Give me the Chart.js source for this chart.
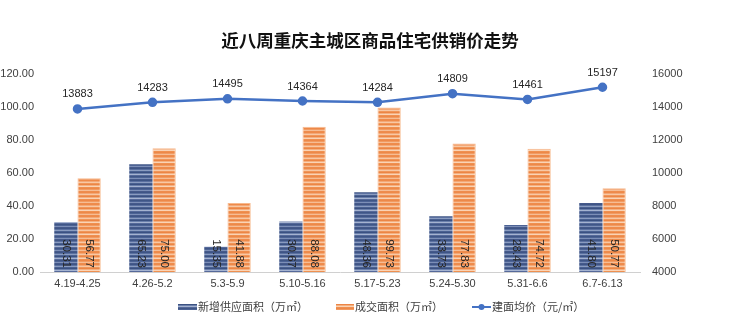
<!DOCTYPE html>
<html>
<head>
<meta charset="utf-8">
<script src="https://cdn.jsdelivr.net/npm/chart.js@4/dist/chart.umd.min.js"></script>
<style>
  html, body { margin: 0; padding: 0; background: #fff; }
  #wrap { width: 740px; height: 334px; }
</style>
</head>
<body>
<div id="wrap"><canvas id="priceChart" width="740" height="334"></canvas></div>
<script>
var weeks = ["4.19-4.25", "4.26-5.2", "5.3-5.9", "5.10-5.16", "5.17-5.23", "5.24-5.30", "5.31-6.6", "6.7-6.13"];
var supplyArea = [30.31, 65.23, 15.35, 30.67, 48.36, 33.73, 28.43, 41.80];
var soldArea = [56.77, 75.00, 41.88, 88.08, 99.73, 77.83, 74.72, 50.77];
var avgPrice = [13883, 14283, 14495, 14364, 14284, 14809, 14461, 15197];

var titleText = "近八周重庆主城区商品住宅供销价走势";
var legendNames = ["新增供应面积（万㎡）", "成交面积（万㎡）", "建面均价（元/㎡）"];

var numFont = "'Liberation Sans', 'Noto Sans', sans-serif";
var cjkFont = "'Noto Sans CJK SC', sans-serif";

// striped fill like the original excel texture
function stripes(colors) {
  var c = document.createElement("canvas");
  c.width = 4;
  c.height = colors.length;
  var g = c.getContext("2d");
  for (var i = 0; i < colors.length; i++) {
    g.fillStyle = colors[i];
    g.fillRect(0, i, 4, 1);
  }
  return g.createPattern(c, "repeat");
}
var blueFill = stripes(["#3e5585", "#5b70a0", "#8a9cc0", "#4a6192", "#3b5181", "#6a7fab", "#a5b3d0", "#55699a", "#3f5686", "#4d6395", "#7c8fb7", "#45598b"]);
var orangeFill = stripes(["#ee8a4a", "#f3a877", "#f8c8a4", "#f09659", "#ec8545", "#f4b080", "#fad3b5", "#ef9050", "#ed8848", "#f19b62", "#f6bd94", "#ee8c4d"]);

var labelsPlugin = {
  id: "valueLabels",
  afterDatasetsDraw: function (chart) {
    var ctx = chart.ctx;
    ctx.save();
    ctx.fillStyle = "#262626";
    ctx.font = "11.5px " + numFont;
    [0, 1].forEach(function (di) {
      var meta = chart.getDatasetMeta(di);
      var vals = chart.data.datasets[di].data;
      meta.data.forEach(function (bar, i) {
        ctx.save();
        ctx.translate(bar.x, bar.base - 4);
        ctx.rotate(Math.PI / 2);
        ctx.textAlign = "right";
        ctx.textBaseline = "middle";
        ctx.fillText(vals[i].toFixed(2), 0, 0);
        ctx.restore();
      });
    });
    var lm = chart.getDatasetMeta(2);
    ctx.font = "11px " + numFont;
    ctx.textAlign = "center";
    ctx.textBaseline = "bottom";
    lm.data.forEach(function (pt, i) {
      ctx.fillText(String(avgPrice[i]), pt.x, pt.y - 9);
    });
    ctx.restore();
  },
  afterDraw: function (chart) {
    var ctx = chart.ctx;
    ctx.save();
    ctx.fillStyle = "#111";
    ctx.font = "bold 17.5px " + cjkFont;
    ctx.textAlign = "center";
    ctx.textBaseline = "middle";
    ctx.fillText(titleText, 370, 40);

    // legend
    var y = 307;
    ctx.font = "11px " + cjkFont;
    ctx.textAlign = "left";
    ctx.fillStyle = blueFill;
    ctx.fillRect(178, y - 3, 19, 6);
    ctx.fillStyle = "#404040";
    ctx.fillText(legendNames[0], 198, y);
    ctx.fillStyle = orangeFill;
    ctx.fillRect(336, y - 3, 18, 6);
    ctx.fillStyle = "#404040";
    ctx.fillText(legendNames[1], 355, y);
    ctx.strokeStyle = "#4472c4";
    ctx.lineWidth = 2;
    ctx.beginPath();
    ctx.moveTo(472, y);
    ctx.lineTo(491, y);
    ctx.stroke();
    ctx.fillStyle = "#4472c4";
    ctx.beginPath();
    ctx.arc(481.5, y, 3, 0, Math.PI * 2);
    ctx.fill();
    ctx.fillStyle = "#404040";
    ctx.fillText(legendNames[2], 492, y);
    ctx.restore();
  }
};

var ctx = document.getElementById("priceChart");
var myChart = new Chart(ctx, {
  type: "bar",
  data: {
    labels: weeks,
    datasets: [
      {
        label: legendNames[0],
        data: supplyArea,
        backgroundColor: blueFill,
        yAxisID: "y",
        order: 2,
        categoryPercentage: 0.62,
        barPercentage: 1
      },
      {
        label: legendNames[1],
        data: soldArea,
        backgroundColor: orangeFill,
        borderColor: "#f7b98e",
        borderWidth: { top: 1, left: 1, right: 1, bottom: 0 },
        yAxisID: "y",
        order: 2,
        categoryPercentage: 0.62,
        barPercentage: 1
      },
      {
        type: "line",
        label: legendNames[2],
        data: avgPrice,
        borderColor: "#4472c4",
        backgroundColor: "#4472c4",
        borderWidth: 2.5,
        pointRadius: 3.5,
        pointHoverRadius: 3.5,
        tension: 0,
        yAxisID: "y1",
        order: 1
      }
    ]
  },
  options: {
    responsive: false,
    animation: false,
    maintainAspectRatio: false,
    layout: { padding: { top: 74, bottom: 38, left: 0, right: 40 } },
    plugins: {
      legend: { display: false },
      title: { display: false },
      tooltip: { enabled: false }
    },
    scales: {
      x: {
        grid: { display: false, drawTicks: false },
        border: { color: "#d0d0d0", width: 1 },
        ticks: { color: "#404040", font: { size: 11, family: numFont }, padding: 5, maxRotation: 0 },
        afterFit: function (s) { s.height = 24; }
      },
      y: {
        position: "left",
        min: 0,
        max: 120,
        grid: { display: false, drawTicks: false },
        border: { display: false },
        ticks: {
          stepSize: 20,
          color: "#404040",
          font: { size: 11, family: numFont },
          padding: 6,
          callback: function (v) { return v.toFixed(2); }
        },
        afterFit: function (s) { s.width = 40; }
      },
      y1: {
        position: "right",
        min: 4000,
        max: 16000,
        grid: { display: false, drawTicks: false },
        border: { display: false },
        ticks: {
          stepSize: 2000,
          color: "#404040",
          font: { size: 11, family: numFont },
          padding: 12,
          callback: function (v) { return String(v); }
        },
        afterFit: function (s) { s.width = 60; }
      }
    }
  },
  plugins: [labelsPlugin]
});
</script>
</body>
</html>
